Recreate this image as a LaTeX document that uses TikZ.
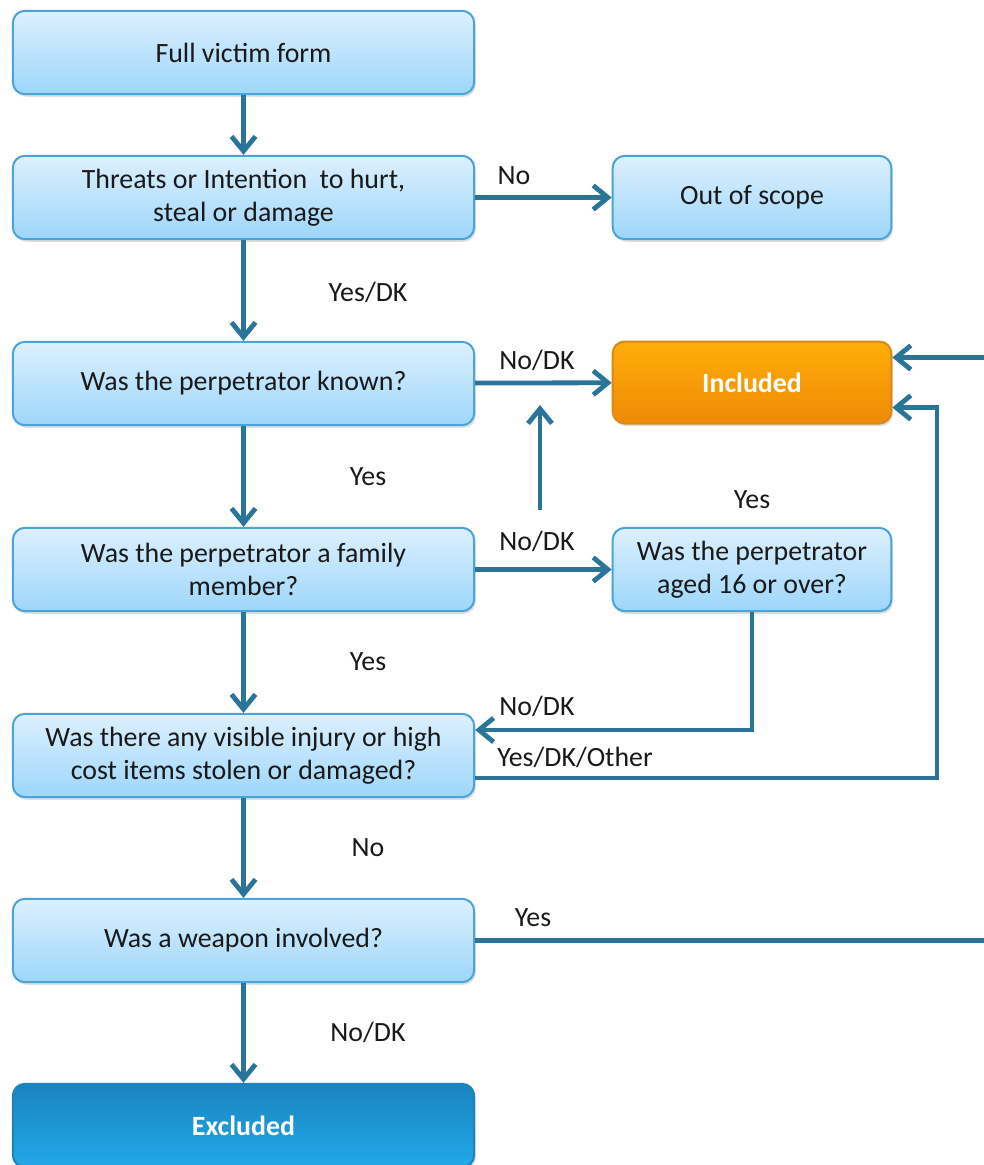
\documentclass[tikz,border=0pt]{standalone}
\usepackage{fontspec}
\setmainfont{Carlito}
\usetikzlibrary{arrows.meta,positioning,calc,shadows}
\definecolor{flow}{HTML}{2B7499}
\definecolor{boxline}{HTML}{4AA3DA}
\definecolor{boxtop}{HTML}{DDF0FE}
\definecolor{boxbot}{HTML}{9DD6FA}
\definecolor{inctop}{HTML}{FFAE0A}
\definecolor{incbot}{HTML}{EE8A05}
\definecolor{incline}{HTML}{D98A1A}
\definecolor{exctop}{HTML}{1A84BF}
\definecolor{excbot}{HTML}{22A8E8}

\tikzset{
  qbox/.style={draw=boxline,line width=1.5pt,rounded corners=9pt,
    top color=boxtop,bottom color=boxbot,align=center,
    minimum width=346pt,minimum height=62.5pt,inner sep=2pt,
    font=\fontsize{20.9}{25}\selectfont,text=black!90,
    drop shadow={shadow xshift=1.2pt,shadow yshift=-2pt,opacity=0.25}},
  rbox/.style={minimum width=209pt},
  incbox/.style={qbox,rbox,draw=incline,top color=inctop,bottom color=incbot,
    text=white,font=\fontsize{20.9}{25}\selectfont\bfseries,minimum height=61.5pt},
  excbox/.style={qbox,draw=exctop,top color=exctop,bottom color=excbot,
    text=white,font=\fontsize{20.9}{25}\selectfont\bfseries},
  flowarrow/.style={draw=flow,line width=3.6pt,
    -{Straight Barb[length=11pt,width=18pt,line width=3.6pt]}},
  lbl/.style={font=\fontsize{20.9}{25}\selectfont,text=black!90,inner sep=0pt}
}

\begin{document}
\begin{tikzpicture}[x=0.75pt,y=0.75pt]
  \useasboundingbox[fill=white] (0,0) rectangle (984,-1165);

  % left column
  \node[qbox] (form) at (243.5,-52.5) {Full victim form};
  \node[qbox] (threat) at (243.5,-197.5) {Threats or Intention\ \ to hurt,\\steal or damage};
  \node[qbox] (known) at (243.5,-383.5) {Was the perpetrator known?};
  \node[qbox] (family) at (243.5,-569.5) {Was the perpetrator a family\\member?};
  \node[qbox] (injury) at (243.5,-755.5) {Was there any visible injury or high\\cost items stolen or damaged?};
  \node[qbox] (weapon) at (243.5,-940.5) {Was a weapon involved?};
  \node[excbox] (excluded) at (243.5,-1125.5) {Excluded};

  % right column
  \node[qbox,rbox] (scope) at (752,-197.5) {Out of scope};
  \node[incbox] (included) at (752,-382.5) {Included};
  \node[qbox,rbox] (aged) at (752,-569.5) {Was the perpetrator\\aged 16 or over?};

  % turning points
  \coordinate (yestail) at (540,-510);
  \coordinate (yeshead) at (540,-405);
  \coordinate (agedturn) at (752,-730);
  \coordinate (otherturn) at (937,-778);
  \coordinate (weaponturn) at (990,-940.5);

  % connectors
  \draw[flowarrow] (form) -- (threat);
  \draw[flowarrow] (threat) -- (scope);
  \draw[flowarrow] (threat) -- (known);
  \draw[flowarrow] (known) -- (included);
  \draw[flowarrow] (known) -- (family);
  \draw[flowarrow] (family) -- (aged);
  \draw[flowarrow] (yestail) -- (yeshead);
  \draw[flowarrow] (family) -- (injury);
  \draw[flowarrow] (aged.south) |- (injury.east |- agedturn);
  \draw[flowarrow] (injury.east |- otherturn) -- (otherturn) |- ($(included.east)+(0,-25)$);
  \draw[flowarrow] (injury) -- (weapon);
  \draw[flowarrow] (weapon) -- (weaponturn) |- ($(included.east)+(0,25)$);
  \draw[flowarrow] (weapon) -- (excluded);

  % labels
  \node[lbl] (lblno) at (514,-176) {No};
  \node[lbl] (lblyesdk) at (368,-292) {Yes/DK};
  \node[lbl] (lblnodka) at (537,-360) {No/DK};
  \node[lbl] (lblyesa) at (368,-477) {Yes};
  \node[lbl] (lblnodkb) at (537,-541) {No/DK};
  \node[lbl] (lblyesb) at (752,-500) {Yes};
  \node[lbl] (lblyesc) at (368,-662) {Yes};
  \node[lbl] (lblnodkc) at (537,-706) {No/DK};
  \node[lbl] (lblother) at (575,-757) {Yes/DK/Other};
  \node[lbl] (lblnob) at (368,-848) {No};
  \node[lbl] (lblyesd) at (533,-918) {Yes};
  \node[lbl] (lblnodkd) at (368,-1032) {No/DK};
\end{tikzpicture}
\end{document}
